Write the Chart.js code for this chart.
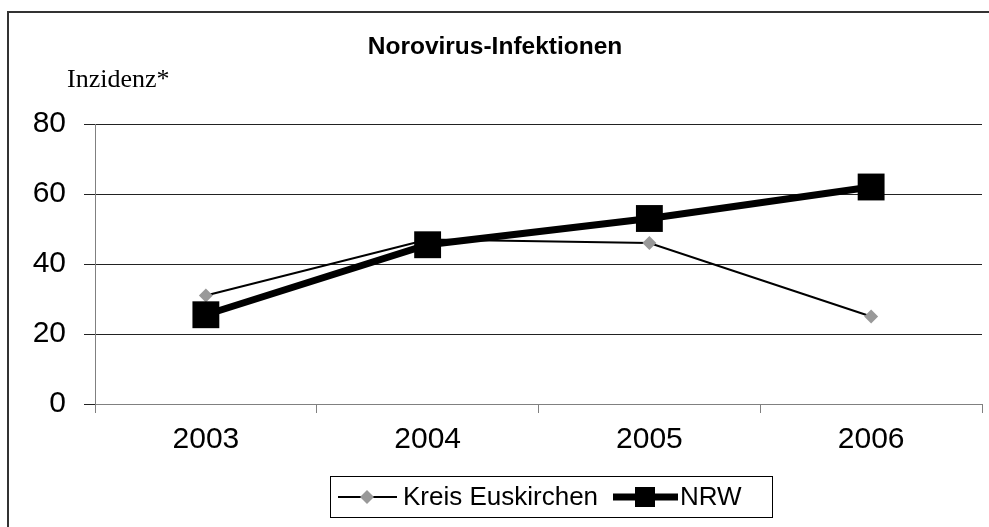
<!DOCTYPE html>
<html>
<head>
<meta charset="utf-8">
<script src="https://cdn.jsdelivr.net/npm/chart.js@4"></script>
<style>
    html, body { margin: 0; padding: 0; background: #fff; overflow: hidden; }
    .chart-wrap { position: relative; width: 989px; height: 527px; }
</style>
</head>
<body>
<div class="chart-wrap"><canvas id="noroChart"></canvas></div>
<script>
// Data
const years = ['2003', '2004', '2005', '2006'];
const euskirchen = [31, 47, 46, 25];
const nrw = [25.5, 45.5, 53, 62];
const yTicks = [0, 20, 40, 60, 80];

const chartTitle = 'Norovirus-Infektionen';
const yCaption = 'Inzidenz*';
const seriesNames = ['Kreis Euskirchen', 'NRW'];

const sans = "'Liberation Sans', Arial, sans-serif";

// Frame, title, caption and the boxed legend
const decorations = {
    id: 'decorations',
    afterDraw(chart) {
        const ctx = chart.ctx;
        ctx.save();

        // outer frame (runs off the right and bottom edge)
        ctx.strokeStyle = '#333';
        ctx.lineWidth = 2;
        ctx.strokeRect(8, 12, 1100, 600);

        ctx.fillStyle = '#000';
        ctx.textBaseline = 'middle';
        ctx.textAlign = 'center';
        ctx.font = "bold 24.5px " + sans;
        ctx.fillText(chartTitle, 495, 47);

        ctx.textAlign = 'left';
        ctx.font = "26px 'Liberation Serif', 'Times New Roman', serif";
        ctx.fillText(yCaption, 67, 80);

        // legend box
        ctx.lineWidth = 1;
        ctx.strokeStyle = '#000';
        ctx.strokeRect(330.5, 476.5, 442, 41);

        const ly = 497;
        const ds = chart.data.datasets;

        // Kreis Euskirchen sample
        ctx.strokeStyle = ds[0].borderColor;
        ctx.lineWidth = ds[0].borderWidth;
        ctx.beginPath();
        ctx.moveTo(338, ly);
        ctx.lineTo(397, ly);
        ctx.stroke();
        ctx.fillStyle = ds[0].pointBackgroundColor;
        ctx.beginPath();
        ctx.moveTo(367, ly - 7); ctx.lineTo(374, ly); ctx.lineTo(367, ly + 7); ctx.lineTo(360, ly);
        ctx.closePath();
        ctx.fill();

        // NRW sample
        ctx.strokeStyle = ds[1].borderColor;
        ctx.lineWidth = ds[1].borderWidth;
        ctx.beginPath();
        ctx.moveTo(613, ly);
        ctx.lineTo(678, ly);
        ctx.stroke();
        ctx.fillStyle = ds[1].pointBackgroundColor;
        ctx.fillRect(635, ly - 10, 20, 20);

        ctx.fillStyle = '#000';
        ctx.font = "26px " + sans;
        ctx.fillText(seriesNames[0], 403, ly + 1);
        ctx.fillText(seriesNames[1], 680, ly + 1);

        ctx.restore();
    }
};

const ctx = document.getElementById('noroChart').getContext('2d');
const noroChart = new Chart(ctx, {
    type: 'line',
    data: {
        labels: years,
        datasets: [{
            label: seriesNames[0],
            data: euskirchen,
            borderColor: '#000',
            borderWidth: 2,
            pointStyle: 'rectRot',
            pointRadius: 7,
            pointBorderWidth: 0,
            pointBackgroundColor: '#999',
            pointBorderColor: '#999',
            tension: 0,
            order: 2
        }, {
            label: seriesNames[1],
            data: nrw,
            borderColor: '#000',
            borderWidth: 7,
            pointStyle: 'rect',
            pointRadius: 19,
            pointBorderWidth: 0,
            pointBackgroundColor: '#000',
            pointBorderColor: '#000',
            tension: 0,
            order: 1
        }]
    },
    options: {
        responsive: true,
        maintainAspectRatio: false,
        animation: false,
        layout: {
            autoPadding: false,
            padding: { top: 124, right: 7, bottom: 63, left: 0 }
        },
        scales: {
            x: {
                offset: true,
                grid: {
                    offset: true,
                    drawOnChartArea: false,
                    color: '#808080',
                    tickLength: 9
                },
                border: { color: '#808080', width: 1 },
                ticks: {
                    color: '#000',
                    padding: 9,
                    font: { family: sans, size: 30 }
                },
                afterFit(scale) {
                    scale.height = 60;
                    scale.paddingLeft = 0;
                    scale.paddingRight = 0;
                }
            },
            y: {
                min: 0,
                max: 80,
                afterBuildTicks(scale) {
                    scale.ticks = yTicks.map(v => ({ value: v }));
                },
                grid: {
                    color: '#222',
                    tickLength: 11
                },
                border: { color: '#808080', width: 1 },
                ticks: {
                    color: '#000',
                    padding: 18,
                    font: { family: sans, size: 30 }
                },
                afterFit(scale) {
                    scale.width = 95;
                    scale.paddingTop = 0;
                    scale.paddingBottom = 0;
                }
            }
        },
        plugins: {
            legend: { display: false },
            title: { display: false },
            tooltip: { enabled: false }
        }
    },
    plugins: [decorations]
});
</script>
</body>
</html>
